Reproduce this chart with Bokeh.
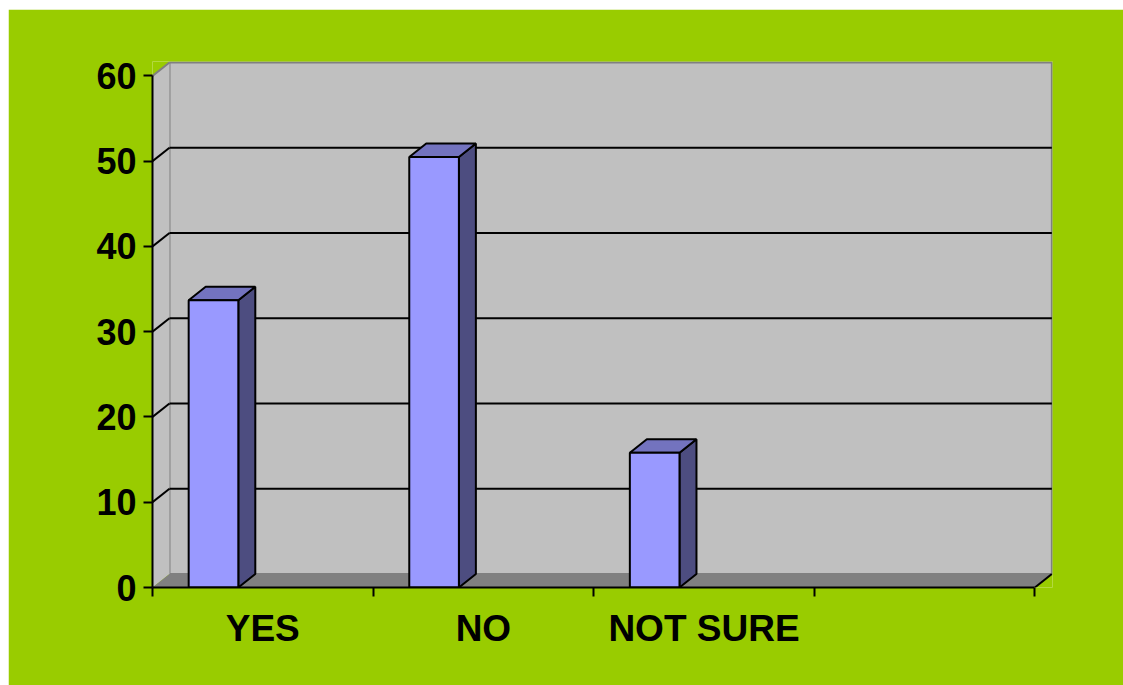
from bokeh.plotting import figure
from bokeh.models import Range1d, FixedTicker, Spacer
from bokeh.layouts import row, column
from bokeh.embed import file_html
from bokeh.resources import INLINE

# ---- data ----
categories = ["YES", "NO", "NOT SURE", ""]
values = [33.7, 50.5, 15.8]
y_ticks = [0, 10, 20, 30, 40, 50, 60]
y_max = 60

# ---- style ----
GREEN = "#99CC00"
WALL = "#C0C0C0"
FLOOR = "#808080"
EDGE = "#808080"
FRONT = "#9999FF"
SIDE = "#4D4D80"
TOP = "#7373BF"
FONT = "Liberation Sans"

DX = 0.077   # 3D depth offset (category units)
DY = 1.58    # 3D depth offset (value units)
BAR_OFF = 0.164
BAR_W = 0.225
ncat = len(categories)

p = figure(width=1115, height=676,
           x_range=Range1d(0, 4.08), y_range=Range1d(0, 61.7),
           output_backend="svg", toolbar_location=None,
           min_border_left=144, min_border_right=71,
           min_border_top=52, min_border_bottom=98)
p.background_fill_color = GREEN
p.border_fill_color = GREEN
p.outline_line_color = None
p.grid.visible = False

# back wall
p.quad(left=DX, right=ncat + DX, bottom=DY, top=y_max + DY,
       fill_color=WALL, line_color=EDGE, line_width=2)
# left side wall
p.patch([0, DX, DX, 0], [0, DY, y_max + DY, y_max],
        fill_color=WALL, line_color=None)
p.line([0, DX], [y_max, y_max + DY], line_color=EDGE, line_width=2)
# floor
p.patch([0, ncat, ncat + DX, DX], [0, 0, DY, DY],
        fill_color=FLOOR, line_color=None)
p.line([ncat, ncat + DX], [0, DY], line_color="black", line_width=2)

# gridlines (back wall + side wall diagonals)
g = [t for t in y_ticks if 0 < t < y_max]
p.segment(x0=[DX] * len(g), y0=[t + DY for t in g],
          x1=[ncat + DX] * len(g), y1=[t + DY for t in g],
          line_color="black", line_width=2)
p.segment(x0=[0] * len(g), y0=g, x1=[DX] * len(g), y1=[t + DY for t in g],
          line_color="black", line_width=2)

# bars
lefts = [i + BAR_OFF for i in range(len(values))]
rights = [l + BAR_W for l in lefts]
side_xs = [[r, r + DX, r + DX, r] for r in rights]
side_ys = [[0, DY, v + DY, v] for v in values]
top_xs = [[l, r, r + DX, l + DX] for l, r in zip(lefts, rights)]
top_ys = [[v, v, v + DY, v + DY] for v in values]
p.patches(side_xs, side_ys, fill_color=SIDE, line_color="black", line_width=2)
p.patches(top_xs, top_ys, fill_color=TOP, line_color="black", line_width=2)
p.quad(left=lefts, right=rights, bottom=0, top=values,
       fill_color=FRONT, line_color="black", line_width=2)

# x axis
xa = p.xaxis[0]
xa.ticker = FixedTicker(ticks=[i + 0.5 for i in range(ncat)],
                        minor_ticks=list(range(ncat + 1)))
xa.major_label_overrides = {i + 0.5: c for i, c in enumerate(categories)}
xa.bounds = (0, ncat)
xa.axis_line_width = 2
xa.axis_line_color = "black"
xa.major_tick_line_color = None
xa.major_tick_out = 0
xa.major_tick_in = 0
xa.minor_tick_line_color = "black"
xa.minor_tick_line_width = 2
xa.minor_tick_out = 9
xa.minor_tick_in = 0
xa.major_label_text_font = FONT
xa.major_label_text_font_style = "bold"
xa.major_label_text_font_size = "37px"
xa.major_label_text_color = "black"
xa.major_label_standoff = 11

# y axis
ya = p.yaxis[0]
ya.ticker = FixedTicker(ticks=y_ticks, minor_ticks=[])
ya.bounds = (0, y_max)
ya.axis_line_width = 2
ya.axis_line_color = "black"
ya.major_tick_line_color = "black"
ya.major_tick_line_width = 2
ya.major_tick_out = 9
ya.major_tick_in = 0
ya.minor_tick_line_color = None
ya.major_label_text_font = FONT
ya.major_label_text_font_style = "bold"
ya.major_label_text_font_size = "36px"
ya.major_label_text_color = "black"
ya.major_label_standoff = 7

layout = row(Spacer(width=8), column(Spacer(height=9), p))
open("out.html", "w").write(file_html(layout, INLINE))
